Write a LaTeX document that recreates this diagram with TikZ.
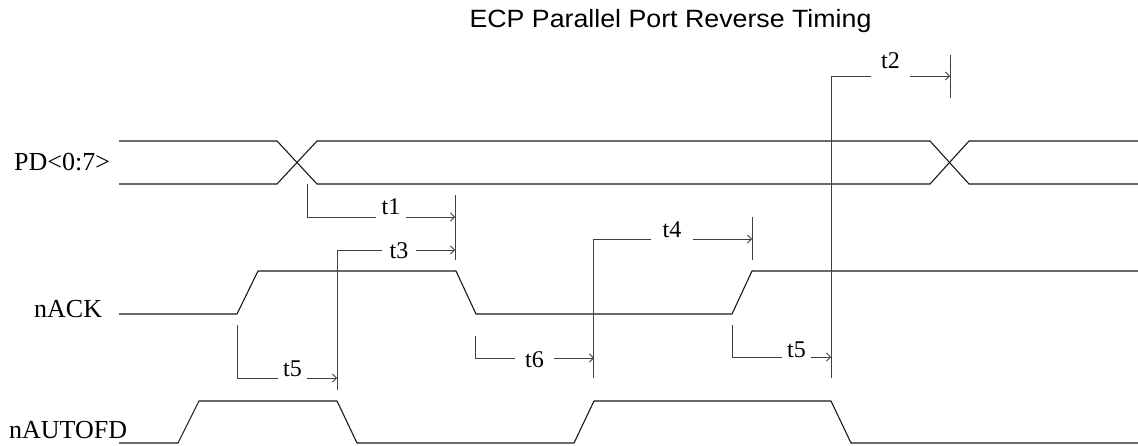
\documentclass[tikz,border=0pt]{standalone}
\usepackage{fontspec}
\setmainfont{Liberation Serif}
\newfontfamily\titlefont{Liberation Sans}
\usetikzlibrary{arrows.meta}
\begin{document}
\begin{tikzpicture}[x=1pt,y=-1pt,
  sig/.style={line width=1.1pt, black!90, line join=miter},
  dim/.style={line width=0.8pt, black!75},
  arr/.style={dim, -{Straight Barb[length=4pt,width=8pt]}},
  siglab/.style={font=\fontsize{26}{26}\selectfont, inner sep=0pt, anchor=base west},
  tlab/.style={font=\fontsize{24}{24}\selectfont, inner xsep=0pt, inner ysep=0pt, anchor=base}]
\useasboundingbox (0,0) rectangle (1138,446);

% title
\node[font=\titlefont\fontsize{25}{25}\selectfont, anchor=base, inner sep=0pt, xscale=1.07] (title) at (670.5,28) {ECP Parallel Port Reverse Timing};

% signal names
\node[siglab] (pd) at (14,171) {PD<0:7>};
\node[siglab] (ack) at (34,318) {nACK};
\node[siglab] (afd) at (9,438) {nAUTOFD};

% PD bus
\draw[sig] (119,141) -- (277,141) -- (317,184) -- (930,184) -- (969,141) -- (1138,141);
\draw[sig] (119,184) -- (277,184) -- (317,141) -- (930,141) -- (969,184) -- (1138,184);
% nACK
\draw[sig] (119,314) -- (237,314) -- (258,271) -- (456,271) -- (476,314) -- (732,314) -- (752,271) -- (1138,271);
% nAUTOFD
\draw[sig] (119,443) -- (178,443) -- (199,401) -- (337,401) -- (357,443) -- (574,443) -- (594,401) -- (831,401) -- (851,443) -- (1138,443);

% reference ticks
\coordinate (k1a) at (455,195); \coordinate (k1b) at (455,260);
\coordinate (k2a) at (752,217); \coordinate (k2b) at (752,260);
\coordinate (k3a) at (950,55);  \coordinate (k3b) at (950,98);
\draw[dim] (k1a) -- (k1b);
\draw[dim] (k2a) -- (k2b);
\draw[dim] (k3a) -- (k3b);

% t1
\coordinate (t1a) at (307,184); \coordinate (t1b) at (455,217);
\node[tlab, minimum width=30pt] (t1) at (391,215) {t1};
\draw[dim] (t1a) |- (t1.west |- t1b);
\draw[arr] (t1.east |- t1b) -- (t1b);

% t3
\coordinate (t3a) at (337,390); \coordinate (t3b) at (455,250);
\node[tlab, minimum width=34pt] (t3) at (399,259) {t3};
\draw[dim] (t3a) |- (t3.west |- t3b);
\draw[arr] (t3.east |- t3b) -- (t3b);

% t5 (first)
\coordinate (t5a) at (237,325); \coordinate (t5b) at (337,378);
\node[tlab, minimum width=29pt] (t5) at (292.5,376) {t5};
\draw[dim] (t5a) |- (t5.west |- t5b);
\draw[arr] (t5.east |- t5b) -- (t5b);

% t6
\coordinate (t6a) at (475,336); \coordinate (t6b) at (594,358);
\node[tlab, minimum width=39pt] (t6) at (534.5,367) {t6};
\draw[dim] (t6a) |- (t6.west |- t6b);
\draw[arr] (t6.east |- t6b) -- (t6b);

% t4
\coordinate (t4a) at (593,378); \coordinate (t4b) at (752,239);
\node[tlab, minimum width=42pt] (t4) at (672,238) {t4};
\draw[dim] (t4a) |- (t4.west |- t4b);
\draw[arr] (t4.east |- t4b) -- (t4b);

% t5 (second)
\coordinate (u5a) at (732,325); \coordinate (u5b) at (831,357);
\node[tlab, minimum width=29pt] (u5) at (796.5,357) {t5};
\draw[dim] (u5a) |- (u5.west |- u5b);
\draw[arr] (u5.east |- u5b) -- (u5b);

% t2
\coordinate (t2a) at (831,378); \coordinate (t2b) at (950,76);
\node[tlab, minimum width=39pt] (t2) at (890.5,69) {t2};
\draw[dim] (t2a) |- (t2.west |- t2b);
\draw[arr] (t2.east |- t2b) -- (t2b);
\end{tikzpicture}
\end{document}
